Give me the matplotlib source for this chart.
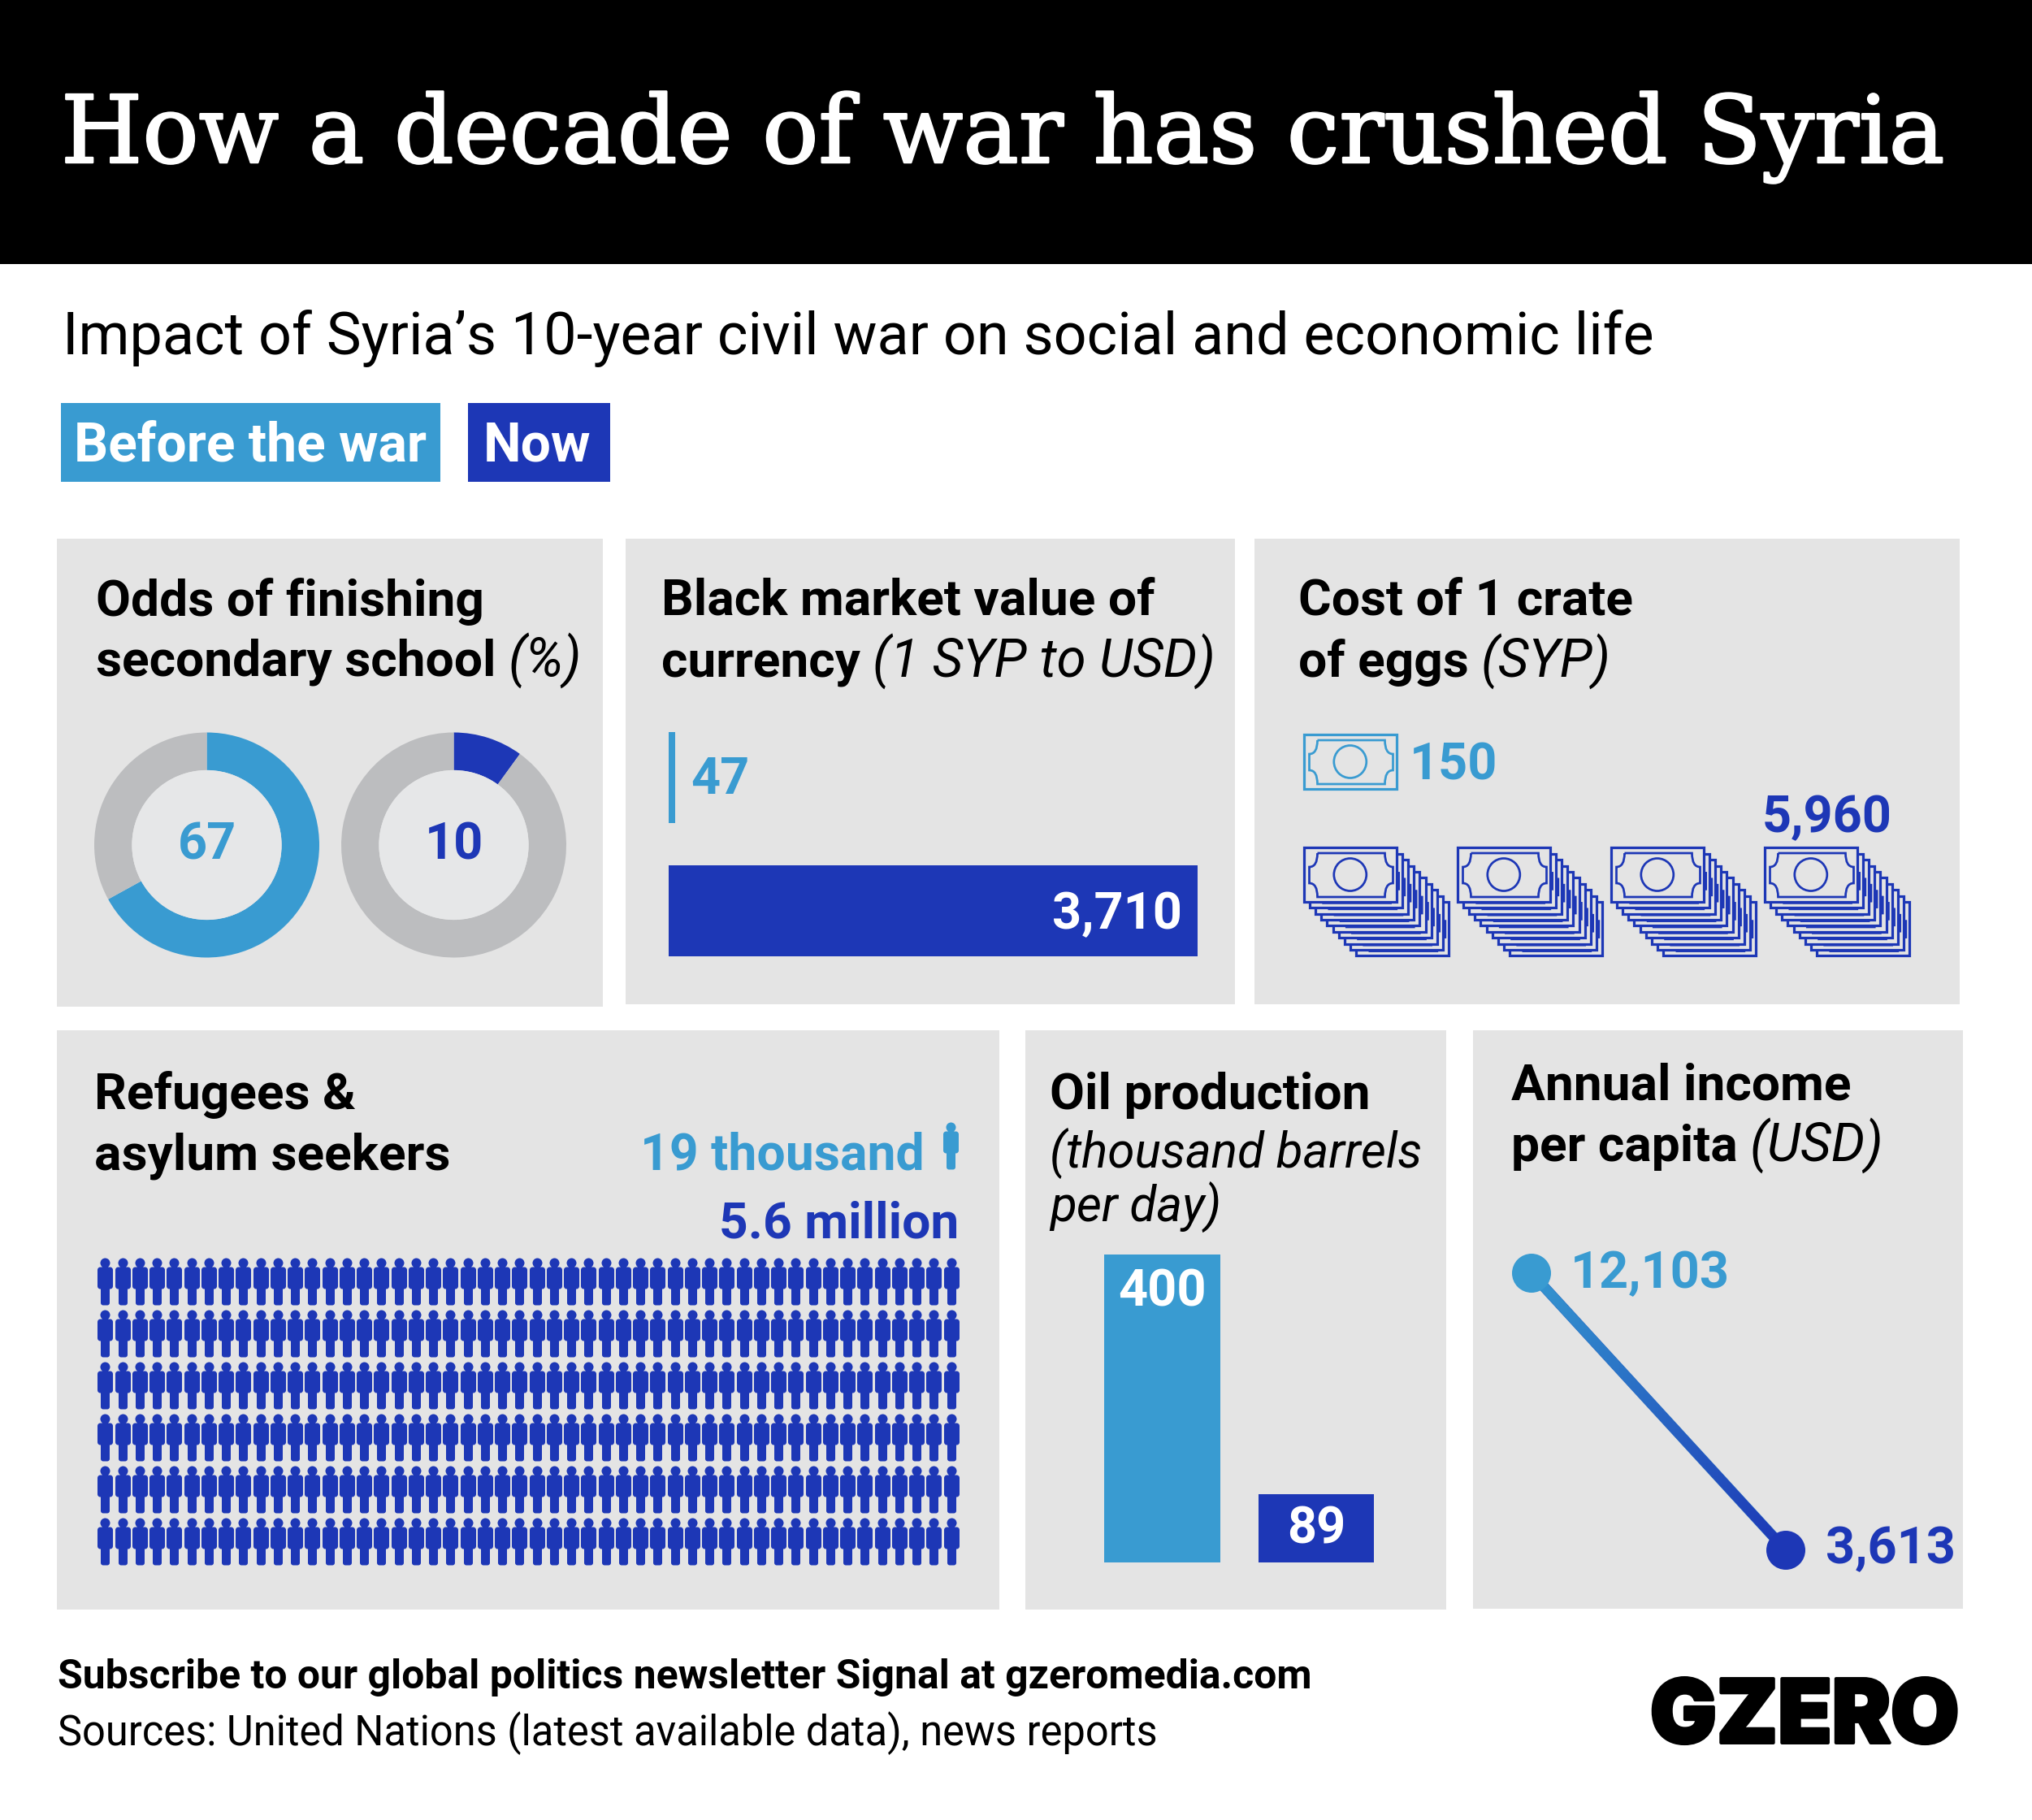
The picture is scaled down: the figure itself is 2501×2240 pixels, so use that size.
import numpy as np
import matplotlib
matplotlib.use("Agg")
import matplotlib.pyplot as plt
import matplotlib.patheffects as pe
from matplotlib.colors import LinearSegmentedColormap
from matplotlib.patches import Rectangle, Circle, PathPatch, Polygon
from matplotlib.path import Path

W, H = 2501, 2240
LIGHT = "#399bd1"
DARK = "#1d37b6"
PANEL = "#e4e4e4"
RING = "#bcbdbf"
HOLE = "#e6e7e8"

# data
legend_labels = ["Before the war", "Now"]
school_odds = [67, 10]
currency = [47, 3710]
eggs = [150, 5960]
refugees = [19000, 5600000]
oil = [400, 89]
income = [12103, 3613]

plt.rcParams["font.family"] = ["Roboto", "DejaVu Sans"]

fig = plt.figure(figsize=(W / 100, H / 100), dpi=100, facecolor="white")
ax = fig.add_axes([0, 0, 1, 1])
ax.set_xlim(0, W)
ax.set_ylim(H, 0)
ax.axis("off")

# all the text goes on this one so the inset axes don't cover it
top = fig.add_axes([0, 0, 1, 1], zorder=10)
top.set_xlim(0, W)
top.set_ylim(H, 0)
top.axis("off")


def px(size):
    return size * 72 / 100


def inset(x0, y0, x1, y1):
    a = fig.add_axes([x0 / W, 1 - y1 / H, (x1 - x0) / W, (y1 - y0) / H], zorder=5)
    a.axis("off")
    return a


def label(x, y, s, size=63, color="black", weight="bold", style="normal", ha="left", **kw):
    return top.text(x, y, s, fontsize=px(size), color=color, fontweight=weight,
                    fontstyle=style, ha=ha, va="baseline", **kw)


def heading(x, y, bold, unit=None):
    # bold heading, optionally followed by an italic unit on the same line
    r = fig.canvas.get_renderer()
    t = label(x, y, bold, size=62.2)
    if unit:
        label(t.get_window_extent(r).x1 + 15, y, unit, size=65.5, weight="normal", style="italic")


def box(x0, y0, x1, y1, color=PANEL):
    ax.add_patch(Rectangle((x0, y0), x1 - x0, y1 - y0, fc=color, ec="none"))


def rounded(x0, y0, x1, y1, r):
    # counter clockwise rounded rectangle
    verts = []
    for cx, cy, a in [(x1 - r, y0 + r, -90), (x1 - r, y1 - r, 0), (x0 + r, y1 - r, 90), (x0 + r, y0 + r, 180)]:
        for t in np.radians(np.linspace(a, a + 90, 7)):
            verts.append((cx + r * np.cos(t), cy + r * np.sin(t)))
    verts.append(verts[0])
    return Path(verts, closed=True)


def person_path():
    # y up, centred, 58 px tall
    head = Path.circle((0, 29 - 6), 6)
    body = rounded(-9.5, -9, 9.5, 18, 3.5)
    legs = rounded(-5.5, -29, 5.5, -5, 3)
    return Path.make_compound_path(head, body, legs)


PERSON = person_path()
PERSON_S = px(58) ** 2


def bill(x, y, color, lw=3.2):
    ax.add_patch(Rectangle((x + 1.3, y + 1.3), 114, 66.5, fc=PANEL, ec=color, lw=px(lw)))
    l, r, t, b = x + 8, x + 111, y + 8, y + 62
    sx, sy = 10, 17
    verts = [(l + sx, t), (r - sx, t), (r - sx, t + sy), (r, t + sy), (r, b - sy), (r - sx, b - sy),
             (r - sx, b), (l + sx, b), (l + sx, b - sy), (l, b - sy), (l, t + sy), (l + sx, t + sy), (l + sx, t)]
    codes = [Path.MOVETO, Path.LINETO, Path.CURVE3, Path.CURVE3, Path.LINETO, Path.CURVE3,
             Path.CURVE3, Path.LINETO, Path.CURVE3, Path.CURVE3, Path.LINETO, Path.CURVE3, Path.CURVE3]
    ax.add_patch(PathPatch(Path(verts, codes), fc="none", ec=color, lw=px(lw * 0.85)))
    ax.add_patch(Circle((x + 58.3, y + 34.5), 20, fc="none", ec=color, lw=px(lw * 0.85)))


# header
box(0, 0, W, 325, "black")
top.text(75, 200, "How a decade of war has crushed Syria", color="white", fontsize=px(115.1),
         family="DejaVu Serif", va="baseline", ha="left",
         path_effects=[pe.withStroke(linewidth=px(2.5), foreground="white")])
label(77, 436, "Impact of Syria\u2019s 10-year civil war on social and economic life", size=71.9, weight="normal")

box(75, 496, 542, 593, LIGHT)
box(576, 496, 751, 593, DARK)
label(91, 568, legend_labels[0], size=66, color="white")
label(595, 568, legend_labels[1], size=66, color="white")

# panels
for x0, y0, x1, y1 in [(70, 663, 742, 1239), (770, 663, 1520, 1236), (1544, 663, 2412, 1236),
                       (70, 1268, 1230, 1981), (1262, 1268, 1780, 1981), (1813, 1268, 2416, 1980)]:
    box(x0, y0, x1, y1)

# donuts
heading(118, 758, "Odds of finishing")
heading(118, 832, "secondary school", "(%)")
for cx, v, c in zip([254.5, 558.5], school_odds, [LIGHT, DARK]):
    a = inset(cx - 138.5, 1040 - 138.5, cx + 138.5, 1040 + 138.5)
    a.pie([v, 100 - v], colors=[c, RING], startangle=90, counterclock=False, radius=1,
          wedgeprops={"width": 0.335, "linewidth": 0})
    a.add_patch(Circle((0, 0), 0.665, fc=HOLE, ec="none"))
    a.set_xlim(-1, 1)
    a.set_ylim(-1, 1)
    label(cx, 1058, str(v), color=c, ha="center")

# currency
heading(814, 758, "Black market value of")
heading(814, 833, "currency", "(1 SYP to USD)")
a = inset(823, 901, 1474, 1177)
a.set_xlim(0, currency[1])
a.set_ylim(276, 0)
a.barh([56, 220], currency, height=[112, 112], color=[LIGHT, DARK])
label(850, 977, f"{currency[0]:,}", color=LIGHT)
label(1455, 1143, f"{currency[1]:,}", color="white", ha="right")

# eggs
heading(1598, 758, "Cost of 1 crate")
heading(1598, 833, "of eggs", "(SYP)")
bill(1603.5, 903, LIGHT)
label(1735, 960, f"{eggs[0]:,}", color=LIGHT)
label(2169, 1024, f"{eggs[1]:,}", color=DARK)
n_bills = round(eggs[1] / eggs[0])
per_stack = 10
for s in range(n_bills // per_stack):
    for i in range(per_stack - 1, -1, -1):
        bill(1603.5 + 189 * s + 7.15 * i, 1042 + 7.4 * i, DARK)

# refugees
heading(116, 1365, "Refugees &")
heading(116, 1440, "asylum seekers")
label(788, 1439, "19 thousand", size=62.5, color=LIGHT)
label(1180, 1523, "5.6 million", size=62.3, color=DARK, ha="right")
per_person = refugees[0]
n_cols = 50
n_people = round(refugees[1] / per_person / n_cols) * n_cols
a = inset(129.3, 1577, 129.3 + 21.25 * (n_cols - 1), 1577 + 64 * 5)
a.set_xlim(0, n_cols - 1)
a.set_ylim(n_people // n_cols - 1, 0)
cols = np.arange(n_people) % n_cols
rows = np.arange(n_people) // n_cols
a.scatter(cols, rows, marker=PERSON, s=PERSON_S, color=DARK, linewidths=0, clip_on=False)
a = inset(1170 - 10, 1381, 1170 + 10, 1439)
a.scatter([0], [0], marker=PERSON, s=PERSON_S, color=LIGHT, linewidths=0, clip_on=False)
a.set_xlim(-1, 1)
a.set_ylim(-1, 1)

# oil
heading(1292, 1365, "Oil production")
label(1292, 1437, "(thousand barrels", size=60.2, weight="normal", style="italic")
label(1292, 1503, "per day)", size=60.2, weight="normal", style="italic")
a = inset(1359, 1544, 1691, 1923)
a.set_xlim(0, 332)
a.set_ylim(0, oil[0])
a.bar([71.5, 261], oil, width=[143, 142], color=[LIGHT, DARK])
label(1431, 1607, str(oil[0]), color="white", ha="center")
label(1620, 1899, str(oil[1]), color="white", ha="center")

# income
heading(1860, 1353, "Annual income")
heading(1860, 1429, "per capita", "(USD)")
a = inset(1885, 1567, 2198, 1908)
a.plot([0, 1], income, color="#2a6cc4", lw=px(13), clip_on=False, solid_capstyle="butt")
a.set_xlim(0, 1)
a.set_ylim(income[1], income[0])
# light to dark along the slope, clipped to the width of the line
p0, p1 = a.transData.transform([(0, income[0]), (1, income[1])])
d = (p1 - p0) / np.hypot(*(p1 - p0))
n = np.array([-d[1], d[0]]) * 6
u, v = np.meshgrid(np.linspace(0, 1, 64), np.linspace(0, 1, 64))
slope_cmap = LinearSegmentedColormap.from_list("slope", ["#3496d0", DARK])
im = a.imshow((u + v) / 2, cmap=slope_cmap, extent=(0, 1, income[1], income[0]), origin="upper",
              aspect="auto", zorder=2)
im.set_clip_path(Polygon([p0 + n, p1 + n, p1 - n, p0 - n], closed=True, transform=None))
a.set_xlim(0, 1)
a.set_ylim(income[1], income[0])
a.scatter([0, 1], income, s=px(48) ** 2, color=[LIGHT, DARK], linewidths=0, clip_on=False, zorder=3)
label(1933, 1585, f"{income[0]:,}", color=LIGHT)
label(2247, 1924, f"{income[1]:,}", color=DARK)

# footer
label(71, 2078, "Subscribe to our global politics newsletter Signal at gzeromedia.com", size=49.85)
label(71, 2148, "Sources: United Nations (latest available data), news reports", size=50.6, weight="normal")
label(2031, 2145, "GZERO", size=108.5, weight=900, family="Inter",
      path_effects=[pe.withStroke(linewidth=px(4), foreground="black")])

fig.savefig("out.png", dpi=100)
